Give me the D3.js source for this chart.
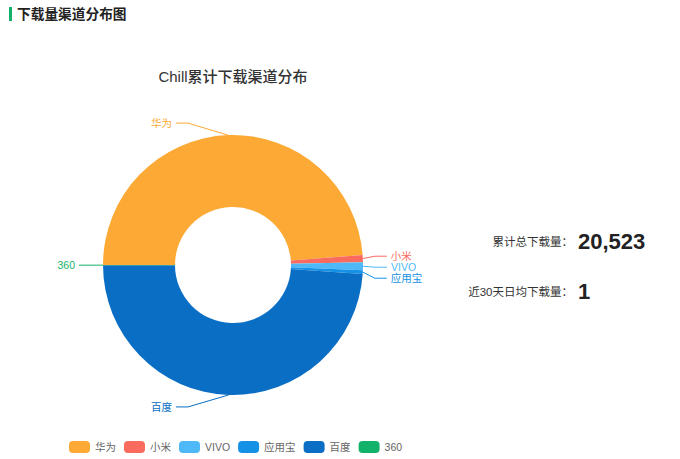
<!DOCTYPE html>
<html>
<head>
<meta charset="utf-8">
<script src="https://cdn.jsdelivr.net/npm/d3@7"></script>
<style>
  body { margin: 0; background: #fff; font-family: 'Liberation Sans', 'Noto Sans CJK SC', sans-serif; }
</style>
</head>
<body>
<div id="chart"></div>
<script>
var width = 680
var height = 459

// channel data
var channels = ['华为', '小米', 'VIVO', '应用宝', '百度', '360']
var downloads = [10010, 180, 205, 90, 10030, 8]
var colors = ['#fcaa35', '#f96b5e', '#4fb9f7', '#1592e6', '#0a6fc4', '#13b26b']
var totalLabel = '累计总下载量：'
var totalValue = 20523
var dailyLabel = '近30天日均下载量：'
var dailyValue = 1

var svg = d3
  .select('#chart')
  .append('svg')
  .attr('width', width)
  .attr('height', height)

// header
svg.append('rect')
  .attr('x', 9).attr('y', 7)
  .attr('width', 3).attr('height', 14)
  .attr('fill', '#13b26b')
svg.append('text')
  .attr('x', 17).attr('y', 19)
  .attr('font-size', 13.7)
  .attr('font-weight', 700)
  .attr('fill', '#222')
  .text('下载量渠道分布图')

var cx = 233
var cy = 265
var radius = 130
var innerRadius = 58

svg.append('text')
  .attr('x', cx).attr('y', 82)
  .attr('text-anchor', 'middle')
  .attr('font-size', 15)
  .attr('font-weight', 500)
  .attr('fill', '#333')
  .text('Chill累计下载渠道分布')

var data = channels.map((c, i) => ({ name: c, value: downloads[i], color: colors[i] }))

// starts at 9 o'clock, clockwise
var pie = d3.pie()
  .sort(null)
  .value(d => d.value)
  .startAngle(-Math.PI / 2)
  .endAngle(Math.PI * 1.5)

var arc = d3.arc().innerRadius(innerRadius).outerRadius(radius)

var arcs = pie(data)

var g = svg.append('g').attr('transform', 'translate(' + cx + ',' + cy + ')')

g.selectAll('.slice')
  .data(arcs)
  .enter()
  .append('path')
  .attr('class', 'slice')
  .attr('d', arc)
  .attr('fill', d => d.data.color)

// label layout
var labels = arcs.map(d => {
  var a = (d.startAngle + d.endAngle) / 2
  var sx = Math.sin(a), sy = -Math.cos(a)
  var side = sx >= 0 ? 1 : -1
  if (Math.abs(sx) < 0.01) side = -1
  var anchor = [sx * radius, sy * radius]
  var ex = sx * (radius + 12)
  if (Math.abs(ex) < 45) ex = side * 45
  var ey = sy * (radius + 12)
  if (Math.abs(sy) < 0.2) ey = sy * radius
  return { d: d, side: side, anchor: anchor, ex: ex, ey: ey }
})

// push overlapping labels apart, keep the group centred
;[1, -1].forEach(s => {
  var list = labels.filter(l => l.side === s).sort((a, b) => a.ey - b.ey)
  var gap = 11
  var before = d3.mean(list, l => l.ey)
  for (var i = 1; i < list.length; i++) {
    if (list[i].ey - list[i - 1].ey < gap) list[i].ey = list[i - 1].ey + gap
  }
  if (list.length > 1 && list[list.length - 1].ey - list[0].ey < 3 * gap) {
    var shift = d3.mean(list, l => l.ey) - before
    list.forEach(l => { l.ey -= shift * 0.6 })
  }
})

labels.forEach(l => {
  var endX = l.ex + l.side * 12
  g.append('polyline')
    .attr('points', [l.anchor, [l.ex, l.ey], [endX, l.ey]].map(p => p.join(',')).join(' '))
    .attr('fill', 'none')
    .attr('stroke', l.d.data.color)
    .attr('stroke-width', 1)
  g.append('text')
    .attr('x', endX + l.side * 4)
    .attr('y', l.ey)
    .attr('dy', '0.35em')
    .attr('text-anchor', l.side > 0 ? 'start' : 'end')
    .attr('font-size', 10.5)
    .attr('fill', l.d.data.color)
    .text(l.d.data.name)
})

// summary numbers
var fmt = d3.format(',')
var stats = [[totalLabel, totalValue, 249], [dailyLabel, dailyValue, 299]]
stats.forEach(s => {
  svg.append('text')
    .attr('x', 573).attr('y', s[2] - 3)
    .attr('text-anchor', 'end')
    .attr('font-size', 11.5)
    .attr('fill', '#333')
    .text(s[0])
  svg.append('text')
    .attr('x', 578).attr('y', s[2])
    .attr('font-size', 22)
    .attr('font-weight', 700)
    .attr('fill', '#222')
    .text(fmt(s[1]))
})

// legend
var legend = svg.append('g').attr('transform', 'translate(69,447)')
var lx = 0
data.forEach(d => {
  var item = legend.append('g').attr('transform', 'translate(' + lx + ',0)')
  item.append('rect')
    .attr('x', 0).attr('y', -6)
    .attr('width', 21).attr('height', 12)
    .attr('rx', 4)
    .attr('fill', d.color)
  var t = item.append('text')
    .attr('x', 26).attr('y', 0)
    .attr('dy', '0.35em')
    .attr('font-size', 10.5)
    .attr('fill', '#666')
    .text(d.name)
  lx += 26 + t.node().getComputedTextLength() + 8
})
</script>
</body>
</html>
